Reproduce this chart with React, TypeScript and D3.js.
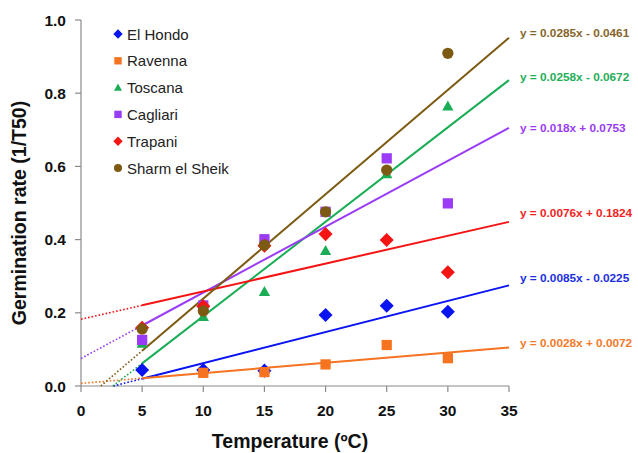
import React from "react";
import * as d3 from "d3";

const temps = [5, 10, 15, 20, 25, 30];
const seriesNames = ["El Hondo", "Ravenna", "Toscana", "Cagliari", "Trapani", "Sharm el Sheik"];
const elHondo = [0.044, 0.044, 0.042, 0.194, 0.219, 0.203];
const ravenna = [null, 0.036, 0.038, 0.059, 0.112, 0.076];
const toscana = [0.117, 0.19, 0.258, 0.37, 0.58, 0.765];
const cagliari = [0.126, 0.22, 0.401, 0.476, 0.622, 0.499];
const trapani = [0.159, 0.218, 0.383, 0.415, 0.399, 0.311];
const sharm = [0.156, 0.205, 0.385, 0.476, 0.59, 0.909];
const slopes = [0.0085, 0.0028, 0.0258, 0.018, 0.0076, 0.0285];
const intercepts = [-0.0225, 0.0072, -0.0672, 0.0753, 0.1824, -0.0461];
const equations = [
  "y = 0.0085x - 0.0225",
  "y = 0.0028x + 0.0072",
  "y = 0.0258x - 0.0672",
  "y = 0.018x + 0.0753",
  "y = 0.0076x + 0.1824",
  "y = 0.0285x - 0.0461",
];
const xTicks = [0, 5, 10, 15, 20, 25, 30, 35];
const yTicks = [0, 0.2, 0.4, 0.6, 0.8, 1.0];

const colors = ["#0a14f0", "#f6731f", "#1aad55", "#9a3cf5", "#f51414", "#7d5a12"];
const labelColors = ["#1a2ee0", "#f47a2a", "#1fae58", "#9a3cf5", "#f01e1e", "#86652a"];
const shapes = ["diamond", "square", "triangle", "square", "diamond", "circle"];
const labelDy = [-3, 0, 1, 4, -5, -1];

const allValues = [elHondo, ravenna, toscana, cagliari, trapani, sharm];

function Marker({ shape, x, y, s, color }: any) {
  if (shape === "diamond") {
    const r = s * 0.52;
    return <path d={`M${x},${y - r}L${x + r},${y}L${x},${y + r}L${x - r},${y}Z`} fill={color} />;
  }
  if (shape === "square") {
    const r = s * 0.41;
    return <rect x={x - r} y={y - r} width={2 * r} height={2 * r} fill={color} />;
  }
  if (shape === "triangle") {
    const r = s * 0.45;
    return <path d={`M${x},${y - r}L${x + r},${y + r * 0.8}L${x - r},${y + r * 0.8}Z`} fill={color} />;
  }
  return <circle cx={x} cy={y} r={s * 0.45} fill={color} />;
}

export default function App() {
  const x = d3.scaleLinear().domain([0, 35]).range([81, 509]);
  const y = d3.scaleLinear().domain([0, 1]).range([386, 20]);
  const axisColor = "#8a8a8a";
  const font = "Arial, 'Liberation Sans', sans-serif";
  const line = d3.line<[number, number]>().x((d) => x(d[0])).y((d) => y(d[1]));

  return (
    <svg width={638} height={453} style={{ position: "absolute", left: 0, top: 0, background: "#fff" }} fontFamily={font}>
      {/* axes */}
      <line x1={x(0)} x2={x(0)} y1={y(1)} y2={y(0)} stroke={axisColor} strokeWidth={1.2} />
      <line x1={x(0)} x2={x(35)} y1={y(0)} y2={y(0)} stroke={axisColor} strokeWidth={1.2} />
      {yTicks.map((t) => (
        <g key={"y" + t}>
          <line x1={x(0) - 6} x2={x(0)} y1={y(t)} y2={y(t)} stroke={axisColor} strokeWidth={1.2} />
          <text x={66} y={y(t) + 5.5} textAnchor="end" fontSize={15.5} fontWeight="bold" fill="#111">
            {d3.format(".1f")(t)}
          </text>
        </g>
      ))}
      {xTicks.map((t) => (
        <g key={"x" + t}>
          <line x1={x(t)} x2={x(t)} y1={y(0)} y2={y(0) + 6} stroke={axisColor} strokeWidth={1.2} />
          <text x={x(t)} y={416} textAnchor="middle" fontSize={15.5} fontWeight="bold" fill="#111">
            {t}
          </text>
        </g>
      ))}
      <text x={290} y={448} textAnchor="middle" fontSize={19.5} fontWeight="bold" fill="#111">
        Temperature (ºC)
      </text>
      <text transform={`translate(26,213) rotate(-90)`} textAnchor="middle" fontSize={19.5} fontWeight="bold" fill="#111">
        Germination rate (1/T50)
      </text>

      {/* trend lines */}
      {slopes.map((m, i) => {
        const b = intercepts[i];
        const x0 = Math.max(0, -b / m);
        const dotted: [number, number][] = [
          [x0, m * x0 + b],
          [5, m * 5 + b],
        ];
        const solid: [number, number][] = [
          [5, m * 5 + b],
          [35, m * 35 + b],
        ];
        return (
          <g key={"l" + i}>
            <path d={line(dotted) || ""} stroke={colors[i]} strokeWidth={1.6} strokeDasharray="1.6,2" fill="none" />
            <path d={line(solid) || ""} stroke={colors[i]} strokeWidth={2} fill="none" />
          </g>
        );
      })}

      {/* markers */}
      {allValues.map((vals, i) => (
        <g key={"m" + i}>
          {vals.map((v, j) =>
            v == null ? null : (
              <Marker key={j} shape={shapes[i]} x={x(temps[j])} y={y(v)} s={shapes[i] === "diamond" ? 13.5 : 12.5} color={colors[i]} />
            )
          )}
        </g>
      ))}

      {/* equations */}
      {equations.map((eq, i) => (
        <text
          key={"e" + i}
          x={520}
          y={y(slopes[i] * 35 + intercepts[i]) + labelDy[i]}
          fontSize={11.8}
          fontWeight="bold"
          fill={labelColors[i]}
        >
          {eq}
        </text>
      ))}

      {/* legend */}
      {seriesNames.map((n, i) => {
        const cy = 34 + i * 26.8;
        return (
          <g key={"lg" + i}>
            <Marker shape={shapes[i]} x={118} y={cy} s={9} color={colors[i]} />
            <text x={127} y={cy + 5.5} fontSize={15} fill="#222">
              {n}
            </text>
          </g>
        );
      })}
    </svg>
  );
}
